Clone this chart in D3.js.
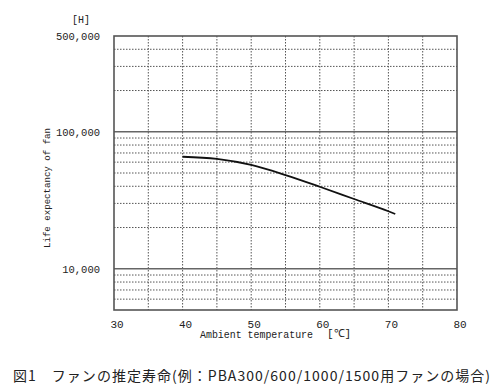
<!DOCTYPE html>
<html>
<head>
<meta charset="utf-8">
<script src="https://cdn.jsdelivr.net/npm/d3@7"></script>
<style>
  body { margin: 0; background: #fff; }
  svg { display: block; }
  .lbl { font-family: "Liberation Mono", monospace; fill: #222; }
  .cap { font-family: "Noto Sans CJK JP", sans-serif; fill: #222; }
</style>
</head>
<body>
<div id="chart"></div>
<script>
// Ambient temperature [C] vs life expectancy of fan [H]
var temps = [40, 45, 50, 55, 60, 65, 70, 71]
var life = [65700, 63300, 57200, 48300, 39700, 32300, 26300, 25100]

var x_ticks = [30, 40, 50, 60, 70, 80]
var x_grid = [35, 40, 45, 50, 55, 60, 65, 70, 75]
var y_labels = [500000, 100000, 10000]
var y_major = [100000, 10000]
var y_minor = [6000, 7000, 8000, 9000, 20000, 30000, 40000, 50000, 60000,
               70000, 80000, 90000, 200000, 300000, 400000]

var width = 500, height = 388
var plot_left = 114, plot_right = 457, plot_top = 36, plot_bottom = 310

var svg = d3.select("#chart").append("svg")
  .attr("width", width)
  .attr("height", height)

var x = d3.scaleLinear().domain([30, 80]).range([plot_left, plot_right])
var y = d3.scaleLog().domain([5000, 500000]).range([plot_bottom, plot_top])

var grid = svg.append("g")

// dotted grid lines
grid.selectAll("line.vx")
  .data(x_grid)
  .enter().append("line")
    .attr("x1", function (d) { return x(d) })
    .attr("x2", function (d) { return x(d) })
    .attr("y1", plot_top)
    .attr("y2", plot_bottom)
    .attr("stroke", "#555")
    .attr("stroke-width", 1)
    .attr("stroke-dasharray", "1.5,1.5")

grid.selectAll("line.hy")
  .data(y_minor)
  .enter().append("line")
    .attr("x1", plot_left)
    .attr("x2", plot_right)
    .attr("y1", function (d) { return y(d) })
    .attr("y2", function (d) { return y(d) })
    .attr("stroke", "#555")
    .attr("stroke-width", 1)
    .attr("stroke-dasharray", "1.5,1.5")

// solid decade lines
grid.selectAll("line.maj")
  .data(y_major)
  .enter().append("line")
    .attr("x1", plot_left)
    .attr("x2", plot_right)
    .attr("y1", function (d) { return y(d) })
    .attr("y2", function (d) { return y(d) })
    .attr("stroke", "#666")
    .attr("stroke-width", 1.3)

// frame
svg.append("rect")
  .attr("x", plot_left)
  .attr("y", plot_top)
  .attr("width", plot_right - plot_left)
  .attr("height", plot_bottom - plot_top)
  .attr("fill", "none")
  .attr("stroke", "#555")
  .attr("stroke-width", 1.6)

// curve
var line = d3.line()
  .x(function (d, i) { return x(temps[i]) })
  .y(function (d) { return y(d) })
  .curve(d3.curveMonotoneX)

svg.append("path")
  .datum(life)
  .attr("d", line)
  .attr("fill", "none")
  .attr("stroke", "#111")
  .attr("stroke-width", 1.8)

// y tick labels
var fmt = d3.format(",")
svg.selectAll("text.yt")
  .data(y_labels)
  .enter().append("text")
    .attr("class", "lbl")
    .attr("x", 100)
    .attr("y", function (d) { return y(d) + 4 })
    .attr("text-anchor", "end")
    .attr("font-size", 10.5)
    .text(function (d) { return fmt(d) })

svg.append("text")
  .attr("class", "lbl")
  .attr("x", 81)
  .attr("y", 23)
  .attr("text-anchor", "middle")
  .attr("font-size", 10)
  .text("[H]")

// x tick labels
svg.selectAll("text.xt")
  .data(x_ticks)
  .enter().append("text")
    .attr("class", "lbl")
    .attr("x", function (d) { return x(d) + 3 })
    .attr("y", 328)
    .attr("text-anchor", "middle")
    .attr("font-size", 11)
    .text(function (d) { return d })

svg.append("text")
  .attr("class", "lbl")
  .attr("x", 200)
  .attr("y", 338)
  .attr("font-size", 10)
  .attr("textLength", 113)
  .attr("lengthAdjust", "spacingAndGlyphs")
  .text("Ambient temperature")

svg.append("text")
  .attr("class", "lbl")
  .attr("x", 327)
  .attr("y", 337)
  .attr("font-size", 11)
  .text("[℃]")

svg.append("text")
  .attr("class", "lbl")
  .attr("transform", "translate(50,188) rotate(-90)")
  .attr("text-anchor", "middle")
  .attr("font-size", 9)
  .attr("textLength", 120)
  .attr("lengthAdjust", "spacingAndGlyphs")
  .text("Life expectancy of fan")

// caption
svg.append("text")
  .attr("class", "cap")
  .attr("x", 13)
  .attr("y", 381)
  .attr("font-size", 14)
  .attr("textLength", 477)
  .attr("lengthAdjust", "spacing")
  .text("図1　ファンの推定寿命(例：PBA300/600/1000/1500用ファンの場合)")
</script>
</body>
</html>
